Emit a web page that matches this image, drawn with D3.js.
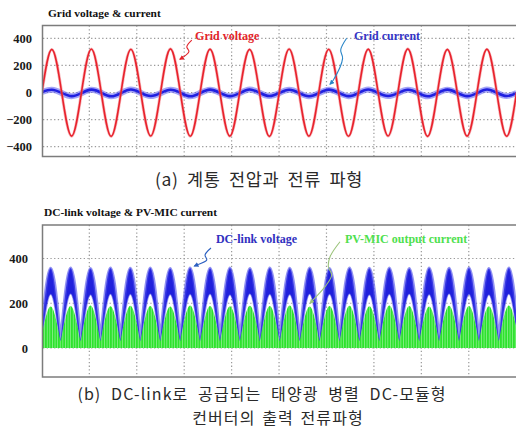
<!DOCTYPE html>
<html>
<head>
<meta charset="utf-8">
<script src="https://cdn.jsdelivr.net/npm/d3@7"></script>
<style>
  body { margin: 0; background: #fff; }
  svg { display: block; }
</style>
</head>
<body>
<div id="chart"></div>
<script>
// ---- values ----

// (a) grid side, one sample per quarter cycle (60 Hz), time in ms
const gridStepMs = 4.17;
const gridVoltage = [0, 318, 0, -322, 0, 321, 0, -324, 0, 319, 0, -321, 0, 322, 0, -323,
  0, 320, 0, -322, 0, 318, 0, -324, 0, 321, 0, -322, 0, 319, 0, -323,
  0, 320, 0, -321, 0, 322, 0, -324, 0, 318, 0, -322, 0, 320, 0, -323, 0];
const gridCurrent = [4, 20, -3, -27, -5, 21, -2, -28, -4, 22, -3, -26, -5, 20, -2, -28,
  -4, 21, -3, -27, -5, 22, -2, -26, -4, 20, -3, -28, -5, 21, -2, -27,
  -4, 22, -3, -26, -5, 20, -2, -28, -4, 21, -3, -27, -5, 22, -2, -26, -4];
const gridTicks = [400, 200, 0, -200, -400];

// (b) DC-link side, valley / peak / valley ... of the rectified humps
const dcStartMs = -0.5;
const dcStepMs = 4.2;
const dcVoltageTop = [34, 356, 30, 358, 33, 355, 31, 357, 34, 356, 30, 358, 32, 355, 34, 357,
  31, 356, 33, 358, 30, 355, 34, 357, 32, 356, 31, 358, 33, 355, 30, 357,
  34, 356, 32, 358, 31, 355, 33, 357, 30, 356, 34, 358, 32, 355, 31, 357, 33];
const dcVoltageBottom = [0, 240, 0, 242, 0, 238, 0, 241, 0, 240, 0, 242, 0, 239, 0, 240,
  0, 241, 0, 238, 0, 242, 0, 240, 0, 239, 0, 241, 0, 240, 0, 242,
  0, 238, 0, 240, 0, 241, 0, 239, 0, 242, 0, 240, 0, 238, 0, 241, 0];
const pvCurrent = [30, 186, 30, 188, 30, 190, 30, 187, 30, 189, 30, 188, 30, 186, 30, 190,
  30, 188, 30, 187, 30, 189, 30, 188, 30, 190, 30, 186, 30, 188, 30, 189,
  30, 187, 30, 190, 30, 188, 30, 186, 30, 189, 30, 188, 30, 187, 30, 190, 30];
const dcTicks = [400, 200, 0];

const timeGrid = [20, 40, 60, 80, 100, 120, 140, 160, 180];

// annotation anchors, [ms, value]
const gridVoltageNote = { text: "Grid voltage", at: [64.6, 387],
  arrow: [[63.2, 387], [61.1, 338], [62.0, 301], [58.2, 245]] };
const gridCurrentNote = { text: "Grid current", at: [131.6, 387],
  arrow: [[128.5, 400], [126.0, 314], [126.8, 252], [122.9, 92], [121.5, 61]] };
const dcVoltageNote = { text: "DC-link voltage", at: [73.4, 469],
  arrow: [[71.3, 447], [68.8, 416], [69.5, 393], [65.3, 371], [64.3, 366]] };
const pvCurrentNote = { text: "PV-MIC output current", at: [127.8, 469],
  arrow: [[125.7, 475], [121.5, 408], [120.8, 363], [122.2, 326], [119.4, 274], [114.4, 215], [113.1, 200]] };

// ---- drawing ----
const W = 516, H = 440;
const svg = d3.select("#chart").append("svg")
  .attr("width", W).attr("height", H);

const serif = '"Liberation Serif", "Times New Roman", serif';
const kr = '"Noto Sans CJK KR", "Noto Sans", sans-serif';

const defs = svg.append("defs");

// green PWM stripes
const pat = defs.append("pattern").attr("id", "pwm")
  .attr("patternUnits", "userSpaceOnUse").attr("width", 2.6).attr("height", 10);
pat.append("rect").attr("width", 2.6).attr("height", 10).attr("fill", "#2ee22e");
pat.append("rect").attr("width", 0.8).attr("height", 10).attr("fill", "#8cf08c");

function arrowMarker(id, color) {
  defs.append("marker").attr("id", id)
    .attr("viewBox", "0 0 10 10").attr("refX", 8).attr("refY", 5)
    .attr("markerWidth", 5).attr("markerHeight", 5)
    .attr("markerUnits", "userSpaceOnUse")
    .attr("orient", "auto")
    .append("path").attr("d", "M0,0 L10,5 L0,10 Z").attr("fill", color);
}
arrowMarker("arRed", "#e3242b");
arrowMarker("arTeal", "#2a86c8");
arrowMarker("arBlue", "#2b5fc0");
arrowMarker("arGreen", "#9cc47c");

const x = d3.scaleLinear().domain([0, 200]).range([41.9, 516.2]);

// panel a
const yA = d3.scaleLinear().domain([-400, 400]).range([146.7, 38.3]);
const boxA = { top: 25.5, bottom: 156.5 };
// panel b
const yB = d3.scaleLinear().domain([0, 400]).range([348, 258.5]);
const boxB = { top: 225, bottom: 377 };

function clip(id, box) {
  defs.append("clipPath").attr("id", id)
    .append("rect").attr("x", 42.5).attr("y", box.top)
    .attr("width", 480).attr("height", box.bottom - box.top);
}
clip("clipA", boxA);
clip("clipB", boxB);

function grid(g, y, levels, box) {
  g.selectAll(".hg").data(levels).join("line")
    .attr("x1", 43).attr("x2", 516)
    .attr("y1", d => y(d)).attr("y2", d => y(d))
    .attr("stroke", "#9a9a9a").attr("stroke-width", 1.2)
    .attr("stroke-dasharray", "1.3,2.4");
  g.selectAll(".vg").data(timeGrid).join("line")
    .attr("x1", d => x(d)).attr("x2", d => x(d))
    .attr("y1", box.top).attr("y2", box.bottom)
    .attr("stroke", "#9a9a9a").attr("stroke-width", 1.2)
    .attr("stroke-dasharray", "1.3,2.4");
}

function yAxis(y, ticks, pad) {
  const ax = svg.append("g").attr("transform", "translate(42,0)")
    .call(d3.axisLeft(y).tickValues(ticks).tickSize(0).tickPadding(pad));
  ax.select(".domain").remove();
  ax.attr("font-family", serif);
  ax.selectAll("text")
    .attr("font-family", serif).attr("font-weight", "bold")
    .attr("font-size", 12.5).attr("fill", "#1a1a1a");
}

function note(g, n, y, color, arrowColor, marker) {
  g.append("path")
    .attr("d", d3.line().x(d => x(d[0])).y(d => y(d[1])).curve(d3.curveCatmullRom)(n.arrow))
    .attr("fill", "none").attr("stroke", arrowColor).attr("stroke-width", 1.1)
    .attr("marker-end", "url(#" + marker + ")");
  g.append("text")
    .attr("x", x(n.at[0])).attr("y", y(n.at[1]))
    .attr("font-family", serif).attr("font-weight", "bold").attr("font-size", 12)
    .attr("fill", color).text(n.text);
}

// ---------- (a) grid voltage & current ----------
svg.append("text").attr("x", 48).attr("y", 16.5)
  .attr("font-family", serif).attr("font-weight", "bold").attr("font-size", 11.4)
  .attr("fill", "#111").text("Grid voltage & current");

const gA = svg.append("g");
grid(gA, yA, gridTicks, boxA);

const plotA = gA.append("g").attr("clip-path", "url(#clipA)");
const sampleLine = (y) => d3.line()
  .x((d, i) => x(i * gridStepMs)).y(d => y(d))
  .curve(d3.curveNatural);

// current: fuzzy thick blue band
plotA.append("path").attr("d", sampleLine(yA)(gridCurrent))
  .attr("fill", "none").attr("stroke", "#5a5af0").attr("stroke-opacity", 0.55)
  .attr("stroke-width", 6);
plotA.append("path").attr("d", sampleLine(yA)(gridCurrent))
  .attr("fill", "none").attr("stroke", "#2020e0").attr("stroke-width", 2.6);

// voltage
plotA.append("path").attr("d", sampleLine(yA)(gridVoltage))
  .attr("fill", "none").attr("stroke", "#f07078").attr("stroke-opacity", 0.5)
  .attr("stroke-width", 3);
plotA.append("path").attr("d", sampleLine(yA)(gridVoltage))
  .attr("fill", "none").attr("stroke", "#e8222c").attr("stroke-width", 1.6);

svg.append("rect").attr("x", 42.5).attr("y", boxA.top)
  .attr("width", 480).attr("height", boxA.bottom - boxA.top)
  .attr("fill", "none").attr("stroke", "#7c7c7c").attr("stroke-width", 1.5);

yAxis(yA, gridTicks, 10);
note(gA, gridVoltageNote, yA, "#e3242b", "#e3242b", "arRed");
note(gA, gridCurrentNote, yA, "#3434c4", "#2a86c8", "arTeal");

svg.append("text").attr("x", 259).attr("y", 186)
  .attr("text-anchor", "middle")
  .attr("font-family", kr).attr("font-size", 17.5).attr("fill", "#2a2a2a")
  .attr("letter-spacing", 0.6).attr("word-spacing", 4)
  .text("(a) 계통 전압과 전류 파형");

// ---------- (b) DC-link voltage & PV-MIC current ----------
svg.append("text").attr("x", 44).attr("y", 216)
  .attr("font-family", serif).attr("font-weight", "bold").attr("font-size", 11.4)
  .attr("fill", "#111").text("DC-link voltage & PV-MIC current");

const gB = svg.append("g");
grid(gB, yB, dcTicks, boxB);
const plotB = gB.append("g").attr("clip-path", "url(#clipB)");

// each rectified hump drawn on its own so the valleys stay sharp
const humpSeg = (y) => d3.line().x(d => x(d[0])).y(d => y(d[1])).curve(d3.curveNatural);
function humps(values, y, reverse) {
  let pts = values.map((v, i) => [dcStartMs + i * dcStepMs, v]);
  if (reverse) pts = pts.slice().reverse();
  let p = "";
  for (let i = 0; i + 2 < pts.length; i += 2) {
    let s = humpSeg(y)(pts.slice(i, i + 3));
    if (p) s = "L" + s.slice(1);
    p += s;
  }
  return p;
}

const t0 = dcStartMs, t1 = dcStartMs + (dcVoltageTop.length - 1) * dcStepMs;

// DC-link voltage ripple band
plotB.append("path")
  .attr("d", humps(dcVoltageTop, yB) + "L" + humps(dcVoltageBottom, yB, true).slice(1) + "Z")
  .attr("fill", "#2020dc");
plotB.append("path").attr("d", humps(dcVoltageTop, yB))
  .attr("fill", "none").attr("stroke", "#4a4aea").attr("stroke-opacity", 0.6)
  .attr("stroke-width", 3);
plotB.append("path").attr("d", humps(dcVoltageBottom, yB))
  .attr("fill", "none").attr("stroke", "#3a3ae6").attr("stroke-opacity", 0.5)
  .attr("stroke-width", 1.5);

// PV-MIC output current
plotB.append("path")
  .attr("d", humps(pvCurrent, yB) + "L" + x(t1) + "," + yB(0) + "L" + x(t0) + "," + yB(0) + "Z")
  .attr("fill", "url(#pwm)");

svg.append("rect").attr("x", 42.5).attr("y", boxB.top)
  .attr("width", 480).attr("height", boxB.bottom - boxB.top)
  .attr("fill", "none").attr("stroke", "#7c7c7c").attr("stroke-width", 1.5);

yAxis(yB, dcTicks, 14);
note(gB, dcVoltageNote, yB, "#3030c0", "#2b5fc0", "arBlue");
note(gB, pvCurrentNote, yB, "#4ee04e", "#9cc47c", "arGreen");

// two-line caption, kept as separate texts
svg.append("text").attr("text-anchor", "middle")
  .attr("x", 262).attr("y", 400)
  .attr("font-family", kr).attr("font-size", 16).attr("fill", "#2a2a2a")
  .attr("letter-spacing", 1.1).attr("word-spacing", 5)
  .text("(b) DC-link로 공급되는 태양광 병렬 DC-모듈형");
svg.append("text").attr("text-anchor", "middle")
  .attr("x", 278).attr("y", 424)
  .attr("font-family", kr).attr("font-size", 16).attr("fill", "#2a2a2a")
  .attr("letter-spacing", 1.1).attr("word-spacing", 2)
  .text("컨버터의 출력 전류파형");
</script>
</body>
</html>
